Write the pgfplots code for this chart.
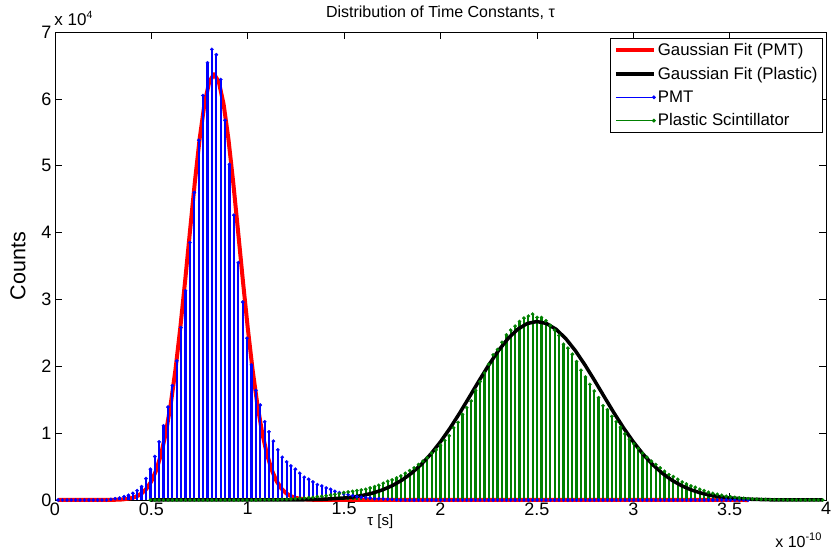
\documentclass[border=0pt]{standalone}
\usepackage{fontspec}
\setmainfont{Liberation Sans}
\usepackage{pgfplots}
\usepackage{pgfplotstable}
\pgfplotsset{compat=1.18}
\definecolor{mgreen}{RGB}{0,128,0}

\pgfplotstableread{
x y
0.016 0
0.039 0
0.062 0
0.084 0
0.107 0
0.130 0
0.153 0
0.176 0
0.198 0
0.221 0
0.244 0
0.267 0
0.290 0.01
0.312 0.02
0.335 0.03
0.358 0.05
0.381 0.07
0.404 0.10
0.426 0.14
0.449 0.20
0.472 0.32
0.495 0.46
0.518 0.65
0.540 0.87
0.563 1.11
0.586 1.39
0.609 1.71
0.632 2.08
0.654 2.58
0.677 3.13
0.700 3.85
0.723 4.60
0.746 5.38
0.768 6.05
0.791 6.54
0.814 6.74
0.837 6.66
0.860 6.29
0.882 5.68
0.905 5.02
0.928 4.26
0.951 3.55
0.974 2.96
0.996 2.42
1.019 2.02
1.042 1.64
1.065 1.42
1.088 1.17
1.110 1.02
1.133 0.88
1.156 0.75
1.179 0.64
1.202 0.57
1.224 0.51
1.247 0.46
1.270 0.40
1.293 0.34
1.316 0.31
1.338 0.27
1.361 0.23
1.384 0.21
1.407 0.18
1.430 0.16
1.452 0.13
1.475 0.11
1.498 0.09
1.521 0.08
1.544 0.065
1.566 0.05
1.589 0.04
1.612 0.035
1.635 0.03
1.658 0.02
1.680 0.02
1.703 0.015
1.726 0.01
1.749 0.01
1.772 0.005
1.794 0
1.817 0
1.840 0
1.863 0
1.886 0
1.908 0
1.931 0
1.954 0
1.977 0
2.000 0
2.022 0
2.045 0
2.068 0
2.091 0
2.114 0
2.136 0
2.159 0
2.182 0
2.205 0
2.228 0
2.250 0
2.273 0
2.296 0
2.319 0
2.342 0
2.364 0
2.387 0
2.410 0
2.433 0
2.456 0
2.478 0
2.501 0
2.524 0
2.547 0
2.570 0
2.592 0
2.615 0
2.638 0
2.661 0
2.684 0
2.706 0
2.729 0
2.752 0
2.775 0
2.798 0
2.820 0
2.843 0
2.866 0
2.889 0
2.912 0
2.934 0
2.957 0
2.980 0
3.003 0
3.026 0
3.048 0
3.071 0
3.094 0
3.117 0
3.140 0
3.162 0
3.185 0
3.208 0
3.231 0
3.254 0
3.276 0
3.299 0
3.322 0
3.345 0
3.368 0
3.390 0
3.413 0
3.436 0
3.459 0
3.482 0
3.504 0
3.527 0
3.550 0
3.573 0
3.596 0
}\pmt

\pgfplotstableread{
x y
0.495 0
0.518 0
0.540 0
0.563 0
0.586 0
0.609 0
0.632 0
0.654 0
0.677 0
0.700 0
0.723 0
0.746 0
0.768 0
0.791 0
0.814 0
0.837 0
0.860 0
0.882 0
0.905 0
0.928 0
0.951 0
0.974 0
0.996 0
1.019 0
1.042 0
1.065 0.005
1.088 0.005
1.110 0.005
1.133 0.005
1.156 0.005
1.179 0.01
1.202 0.01
1.224 0.015
1.247 0.02
1.270 0.025
1.293 0.03
1.316 0.035
1.338 0.04
1.361 0.05
1.384 0.055
1.407 0.065
1.430 0.075
1.452 0.085
1.475 0.095
1.498 0.11
1.521 0.12
1.544 0.13
1.566 0.14
1.589 0.15
1.612 0.16
1.635 0.18
1.658 0.20
1.680 0.22
1.703 0.25
1.726 0.28
1.749 0.30
1.772 0.33
1.794 0.36
1.817 0.40
1.840 0.44
1.863 0.48
1.886 0.53
1.908 0.58
1.931 0.63
1.954 0.70
1.977 0.75
2.000 0.82
2.022 0.89
2.045 0.96
2.068 1.08
2.091 1.16
2.114 1.28
2.136 1.38
2.159 1.48
2.182 1.64
2.205 1.77
2.228 1.90
2.250 2.03
2.273 2.17
2.296 2.25
2.319 2.36
2.342 2.47
2.364 2.54
2.387 2.60
2.410 2.67
2.433 2.72
2.456 2.75
2.478 2.78
2.501 2.73
2.524 2.73
2.547 2.68
2.570 2.61
2.592 2.54
2.615 2.46
2.638 2.33
2.661 2.27
2.684 2.18
2.706 2.07
2.729 1.94
2.752 1.84
2.775 1.73
2.798 1.63
2.820 1.53
2.843 1.41
2.866 1.35
2.889 1.25
2.912 1.17
2.934 1.09
2.957 0.99
2.980 0.91
3.003 0.84
3.026 0.77
3.048 0.70
3.071 0.64
3.094 0.58
3.117 0.53
3.140 0.48
3.162 0.43
3.185 0.38
3.208 0.35
3.231 0.31
3.254 0.27
3.276 0.24
3.299 0.21
3.322 0.19
3.345 0.16
3.368 0.14
3.390 0.115
3.413 0.10
3.436 0.085
3.459 0.07
3.482 0.055
3.504 0.048
3.527 0.04
3.550 0.032
3.573 0.026
3.596 0.02
3.618 0.016
3.641 0.012
3.664 0.01
3.687 0.008
3.710 0.006
3.732 0.005
3.755 0.004
3.778 0.003
3.801 0.002
3.824 0.002
3.846 0.001
3.869 0.001
3.892 0
3.915 0
3.938 0
3.960 0
3.983 0
}\plastic

\pgfplotsset{
 redfitleg/.style={legend image code/.code={\draw[red,line width=4bp](0bp,0bp)--(38bp,0bp);}},
 blackfitleg/.style={legend image code/.code={\draw[black,line width=3.5bp](0bp,0bp)--(38bp,0bp);}},
 bluestemleg/.style={legend image code/.code={\draw[blue,line width=1.2bp](0bp,0bp)--(38bp,0bp);\fill[blue](38bp,0bp) circle (1.5bp);}},
 greenstemleg/.style={legend image code/.code={\draw[mgreen,line width=1.2bp](0bp,0bp)--(38bp,0bp);\fill[mgreen](38bp,0bp) circle (1.5bp);}},
}

\begin{document}
\begin{tikzpicture}
\useasboundingbox (-55bp,-52bp) rectangle (776bp,500bp);
\begin{axis}[
 scale only axis, width=771bp, height=468bp,
 xmin=0, xmax=4, ymin=0, ymax=7,
 xtick={0,0.5,1,1.5,2,2.5,3,3.5,4},
 xticklabels={0,0.5,1,1.5,2,2.5,3,3.5,4},
 ytick={0,1,2,3,4,5,6,7},
 yticklabels={0,1,2,3,4,5,6,7},
 tick align=inside, major tick length=7bp,
 tick style={black, line width=0.7bp},
 axis line style={line width=0.8bp},
 /pgf/number format/assume math mode=true,
 tick label style={font=\fontsize{18bp}{21bp}\selectfont},
 xticklabel style={yshift=1bp},
 title={Distribution of Time Constants, τ},
 title style={font=\fontsize{16bp}{19bp}\selectfont, at={(axis description cs:0.5,1)}, anchor=base, yshift=9bp},
 xlabel={τ [s]},
 xlabel style={font=\fontsize{15bp}{18bp}\selectfont, at={(axis description cs:0.422,-0.047)}, anchor=center},
 ylabel={Counts},
 ylabel style={font=\fontsize{21.5bp}{24bp}\selectfont, at={(axis description cs:-0.048,0.5)}, anchor=center},
 clip=false,
 legend style={at={(rel axis cs:0.996,0.987)}, anchor=north east, draw=black, line width=0.8bp,
   font=\fontsize{16.8bp}{20bp}\selectfont, inner sep=3bp, row sep=6bp,
   /tikz/every even column/.append style={column sep=4bp}},
 legend cell align=left,
]
\addlegendimage{redfitleg}
\addlegendimage{blackfitleg}
\addlegendimage{bluestemleg}
\addlegendimage{greenstemleg}
\legend{Gaussian Fit (PMT), Gaussian Fit (Plastic), PMT, Plastic Scintillator}

\addplot[red, line width=4bp, line join=round, forget plot] coordinates {
(0.016,0) (0.30,0.002) (0.35,0.008) (0.40,0.030) (0.425,0.056) (0.45,0.099) (0.475,0.170) (0.50,0.280) (0.525,0.444) (0.55,0.680) (0.575,1.003) (0.60,1.425) (0.625,1.950) (0.65,2.574) (0.675,3.273) (0.70,4.012) (0.725,4.739) (0.75,5.393) (0.775,5.916) (0.80,6.253) (0.825,6.370) (0.85,6.253) (0.875,5.916) (0.90,5.393) (0.925,4.739) (0.95,4.012) (0.975,3.273) (1.00,2.574) (1.025,1.950) (1.05,1.425) (1.075,1.003) (1.10,0.680) (1.125,0.444) (1.15,0.280) (1.175,0.170) (1.20,0.099) (1.225,0.056) (1.25,0.030) (1.30,0.008) (1.35,0.002) (3.596,0)
};

\addplot[draw=blue, line width=2.2bp, ycomb, mark=*, mark size=1.7bp, mark options={draw=blue, fill=blue, line width=0.3bp}, forget plot] table[x=x,y=y] {\pmt};
\addplot[draw=mgreen, line width=2.2bp, ycomb, mark=*, mark size=1.7bp, mark options={draw=mgreen, fill=mgreen, line width=0.3bp}, forget plot] table[x=x,y=y] {\plastic};

\addplot[black, line width=3.5bp, line join=round, forget plot] coordinates {
(0.495,0) (1.20,0.001) (1.30,0.004) (1.40,0.012) (1.50,0.030) (1.55,0.047) (1.60,0.071) (1.65,0.105) (1.70,0.152) (1.75,0.215) (1.80,0.297) (1.85,0.402) (1.90,0.532) (1.95,0.688) (2.00,0.871) (2.05,1.077) (2.10,1.303) (2.15,1.542) (2.20,1.784) (2.25,2.018) (2.30,2.232) (2.35,2.414) (2.40,2.553) (2.45,2.640) (2.50,2.670) (2.55,2.640) (2.60,2.553) (2.65,2.414) (2.70,2.232) (2.75,2.018) (2.80,1.784) (2.85,1.542) (2.90,1.303) (2.95,1.077) (3.00,0.871) (3.05,0.688) (3.10,0.532) (3.15,0.402) (3.20,0.297) (3.25,0.215) (3.30,0.152) (3.35,0.105) (3.40,0.071) (3.45,0.047) (3.50,0.030) (3.60,0.012) (3.70,0.004) (3.80,0.001) (3.983,0)
};

\node[anchor=base west, inner sep=0pt, yshift=7bp, font=\fontsize{17bp}{19bp}\selectfont] at (rel axis cs:-0.001,1) {x 10\raisebox{7bp}{\fontsize{10.5bp}{11bp}\selectfont 4}};
\node[anchor=base west, inner sep=0pt, yshift=-47bp, font=\fontsize{16bp}{18bp}\selectfont] at (rel axis cs:0.934,0) {x 10\raisebox{7bp}{\fontsize{11bp}{12bp}\selectfont -10}};
\end{axis}
\end{tikzpicture}
\end{document}
